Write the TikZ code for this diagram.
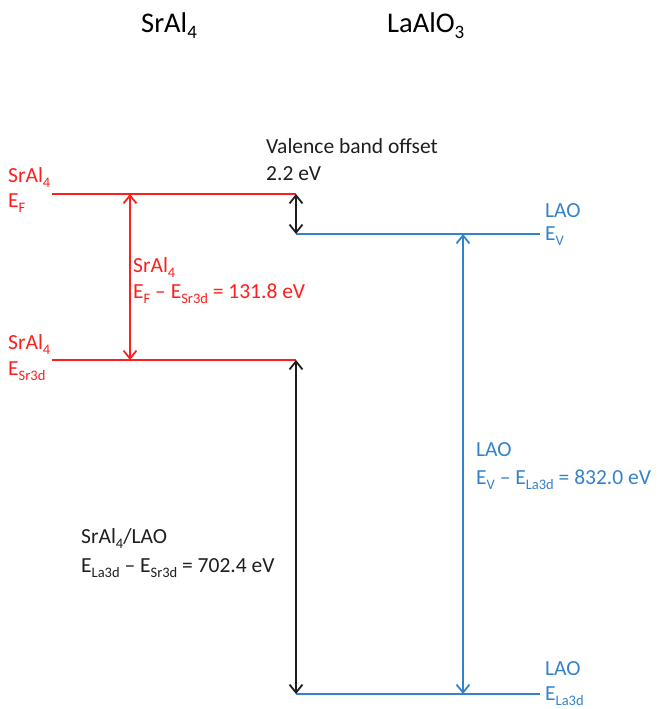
\documentclass[tikz,border=0pt]{standalone}
\usepackage{fontspec}
\setmainfont{Carlito}
\usetikzlibrary{arrows.meta}
\definecolor{redlvl}{RGB}{255,30,30}
\definecolor{bluelvl}{RGB}{52,130,204}
\definecolor{blacklvl}{RGB}{30,30,30}
\newcommand{\lsub}[1]{\raisebox{-5pt}{\fontsize{14.5}{14.5}\selectfont #1}}
\newcommand{\tsub}[1]{\raisebox{-6pt}{\fontsize{19}{19}\selectfont #1}}
\begin{document}
\begin{tikzpicture}[x=1pt,y=-1pt,
  lvl/.style={line width=2.3pt},
  dbl/.style={line width=1.8pt,{Straight Barb[length=8pt,width=13pt]}-{Straight Barb[length=8pt,width=13pt]}},
  lbl/.style={anchor=base west,inner sep=0pt,font=\fontsize{21.5}{26}\selectfont},
  ttl/.style={anchor=base west,inner sep=0pt,font=\fontsize{28.5}{32}\selectfont}]
\useasboundingbox (0,0) rectangle (664,709);
% level end points
\coordinate (efL) at (52,194);  \coordinate (efR) at (296,194);
\coordinate (srL) at (52,360);  \coordinate (srR) at (296,360);
\coordinate (evL) at (296,234); \coordinate (evR) at (540,234);
\coordinate (laL) at (296,694); \coordinate (laR) at (540,694);
% arrow end points
\coordinate (a1t) at (130,194); \coordinate (a1b) at (130,360);
\coordinate (a2b) at (296,234);
\coordinate (a4t) at (463,234); \coordinate (a4b) at (463,694);
% levels
\draw[lvl,redlvl] (efL) -- (efR);
\draw[lvl,redlvl] (srL) -- (srR);
\draw[lvl,bluelvl] (evL) -- (evR);
\draw[lvl,bluelvl] (laL) -- (laR);
% arrows
\draw[dbl,redlvl] (a1t) -- (a1b);
\draw[dbl,blacklvl] (efR) -- (a2b);
\draw[dbl,blacklvl] (srR) -- (laL);
\draw[dbl,bluelvl] (a4t) -- (a4b);
% titles
\node[ttl] (t1) at (141,33) {SrAl\tsub{4}};
\node[ttl] (t2) at (387,33) {LaAlO\tsub{3}};
% labels
\node[lbl,redlvl] (l1a) at (8,182) {SrAl\lsub{4}};
\node[lbl,redlvl] (l1b) at (8,207) {E\lsub{F}};
\node[lbl,redlvl] (l2a) at (8,349) {SrAl\lsub{4}};
\node[lbl,redlvl] (l2b) at (8,375) {E\lsub{Sr3d}};
\node[lbl,blacklvl] (vb1) at (266,153) {Valence band offset};
\node[lbl,blacklvl] (vb2) at (266,180) {2.2 eV};
\node[lbl,bluelvl] (l3a) at (545,217) {LAO};
\node[lbl,bluelvl] (l3b) at (545,240) {E\lsub{V}};
\node[lbl,redlvl] (m1a) at (133,272) {SrAl\lsub{4}};
\node[lbl,redlvl] (m1b) at (133,298) {E\lsub{F} – E\lsub{Sr3d} = 131.8 eV};
\node[lbl,blacklvl] (m2a) at (81,543) {SrAl\lsub{4}/LAO};
\node[lbl,blacklvl] (m2b) at (81,572) {E\lsub{La3d} – E\lsub{Sr3d} = 702.4 eV};
\node[lbl,bluelvl] (m3a) at (476,456) {LAO};
\node[lbl,bluelvl] (m3b) at (476,484) {E\lsub{V} – E\lsub{La3d} = 832.0 eV};
\node[lbl,bluelvl] (l4a) at (545,675) {LAO};
\node[lbl,bluelvl] (l4b) at (545,700) {E\lsub{La3d}};
\end{tikzpicture}
\end{document}
